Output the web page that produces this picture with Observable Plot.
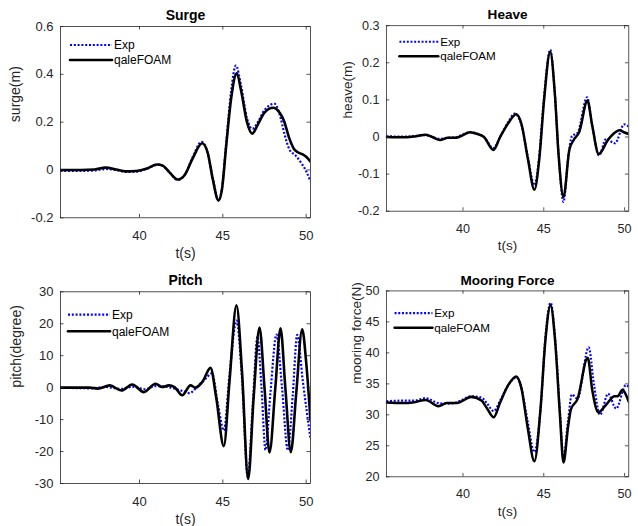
<!DOCTYPE html>
<html>
<head>
<meta charset="utf-8">
<script src="https://cdn.jsdelivr.net/npm/d3@7"></script>
<script src="https://cdn.jsdelivr.net/npm/@observablehq/plot@0.6"></script>
<style>
  body { margin: 0; background: #fff; }
  #fig { position: relative; width: 638px; height: 526px; overflow: hidden; background: #fff; }
  .panel { position: absolute; }
  .panel svg { overflow: visible; }
</style>
</head>
<body>
<div id="fig"></div>
<script>
// Time axis shared by all four panels
const tDomain = [35.26, 50.26];
const tTicks = [40, 45, 50];

// Surge (m): [t, value]
const surgeExp = [[35.26,-0.004],[36.5,-0.004],[37.3,-0.002],[38.0,0.004],[38.6,0.000],[39.2,-0.008],[39.8,-0.007],[40.4,0.004],[41.1,0.022],[41.4,0.017],[41.8,-0.010],[42.3,-0.042],[42.7,-0.022],[43.2,0.055],[43.72,0.118],[44.05,0.080],[44.4,-0.035],[44.74,-0.128],[44.95,-0.075],[45.2,0.110],[45.5,0.330],[45.78,0.437],[46.1,0.350],[46.45,0.215],[46.78,0.172],[47.1,0.200],[47.5,0.250],[48.1,0.277],[48.4,0.235],[48.7,0.150],[49.0,0.085],[49.36,0.061],[49.7,0.030],[50.0,-0.005],[50.26,-0.048]];
const surgeCfd = [[35.26,0.000],[36.5,0.000],[37.3,0.002],[37.96,0.010],[38.6,0.002],[39.16,-0.006],[39.8,-0.004],[40.4,0.005],[41.06,0.023],[41.4,0.018],[41.8,-0.010],[42.3,-0.040],[42.7,-0.022],[43.2,0.050],[43.76,0.112],[44.1,0.070],[44.4,-0.040],[44.74,-0.127],[44.95,-0.080],[45.2,0.100],[45.5,0.300],[45.84,0.404],[46.1,0.330],[46.45,0.200],[46.76,0.152],[47.1,0.190],[47.5,0.240],[48.02,0.260],[48.4,0.240],[48.66,0.207],[49.0,0.130],[49.26,0.089],[49.5,0.074],[49.76,0.066],[50.0,0.055],[50.26,0.035]];

// Heave (m)
const heaveExp = [[35.26,0.002],[36.5,0.001],[37.1,0.003],[37.7,0.005],[38.1,0.000],[38.6,-0.005],[39.1,-0.002],[39.6,0.000],[40.0,0.007],[40.45,0.013],[40.9,0.009],[41.3,0.000],[41.88,-0.030],[42.3,0.000],[42.8,0.040],[43.2,0.063],[43.6,0.035],[44.0,-0.050],[44.42,-0.130],[44.7,-0.060],[45.0,0.100],[45.4,0.235],[45.68,0.120],[45.92,-0.050],[46.22,-0.175],[46.5,-0.060],[46.74,0.002],[47.1,0.012],[47.68,0.107],[48.0,0.030],[48.42,-0.050],[48.85,-0.005],[49.4,-0.017],[49.98,0.034],[50.26,0.028]];
const heaveCfd = [[35.26,0.000],[36.5,-0.001],[37.1,0.002],[37.67,0.006],[38.1,0.000],[38.58,-0.008],[39.07,-0.002],[39.6,-0.002],[40.0,0.005],[40.42,0.013],[40.9,0.008],[41.3,0.000],[41.88,-0.035],[42.3,0.000],[42.8,0.037],[43.3,0.061],[43.62,0.035],[44.02,-0.060],[44.42,-0.142],[44.72,-0.060],[45.02,0.100],[45.4,0.230],[45.68,0.120],[45.92,-0.050],[46.22,-0.162],[46.58,-0.035],[46.85,-0.008],[47.2,0.014],[47.7,0.098],[48.0,0.030],[48.4,-0.046],[48.98,-0.007],[49.3,0.008],[49.68,0.018],[50.0,0.012],[50.26,0.008]];

// Pitch (degree)
const pitchExp = [[35.26,0],[37.0,-0.2],[38.0,0.2],[38.9,-0.4],[39.6,0.3],[40.3,-0.5],[41.0,0.5],[41.7,0.2],[42.5,-0.9],[43.0,-1.7],[43.5,0.5],[44.0,3.0],[44.35,4.5],[44.7,-5],[45.06,-13.4],[45.4,4],[45.82,21],[46.15,3],[46.5,-28],[46.8,-5],[47.08,16],[47.32,0],[47.56,-19.5],[47.85,-2],[48.22,16.6],[48.55,0],[48.9,-19.6],[49.2,-2],[49.46,16.5],[49.8,2],[50.26,-16]];
const pitchCfd = [[35.26,0],[37.0,0],[37.5,-0.3],[38.22,0.7],[38.92,-0.9],[39.56,1.0],[40.26,-1.4],[40.96,1.2],[41.36,0.2],[41.76,0.7],[42.1,0.2],[42.56,-2.4],[43.06,0.7],[43.36,0.0],[43.8,2.0],[44.26,6.2],[44.6,-3],[45.06,-18.3],[45.4,2],[45.82,25.8],[46.15,5],[46.52,-28.6],[46.85,-3],[47.2,18.8],[47.5,0],[47.8,-20.3],[48.15,0],[48.46,18.6],[48.75,0],[49.08,-20.2],[49.4,-2],[49.76,18.3],[50.0,8],[50.26,-10.3]];

// Mooring force (N)
const mooringExp = [[35.26,32.2],[36.3,32.3],[37.0,32.3],[37.69,32.7],[38.48,31.9],[39.0,31.8],[39.6,32.0],[40.0,32.5],[40.49,33.0],[41.14,32.8],[41.5,31.8],[41.9,30.6],[42.3,32.3],[42.8,34.8],[43.3,36.0],[43.6,34.5],[44.0,29.0],[44.42,24.0],[44.8,31.0],[45.1,42.5],[45.42,48.1],[45.7,42.5],[46.0,30.5],[46.22,23.0],[46.5,29.0],[46.74,33.3],[47.08,32.6],[47.78,40.9],[48.1,35.0],[48.48,30.0],[48.98,33.4],[49.48,31.0],[50.08,34.8],[50.26,34.5]];
const mooringCfd = [[35.26,32.0],[36.3,31.9],[37.0,32.05],[37.69,32.4],[38.48,31.4],[39.0,31.9],[39.6,31.9],[40.0,32.3],[40.49,32.9],[41.14,32.3],[41.5,31.0],[41.9,29.6],[42.3,32.0],[42.8,34.8],[43.3,36.2],[43.6,34.5],[44.0,28.0],[44.42,22.5],[44.8,31.0],[45.1,42.0],[45.42,47.7],[45.7,42.0],[46.0,30.0],[46.22,22.3],[46.5,28.0],[46.68,30.9],[47.08,32.5],[47.72,39.2],[48.0,34.0],[48.38,30.4],[48.88,31.7],[49.38,33.0],[49.58,33.0],[49.85,34.0],[50.26,32.1]];

// Series names shown in every legend
const seriesNames = ["Exp", "qaleFOAM"];

const ink = "#262626";
const expStyle = {stroke: "#0000ff", strokeWidth: 2.2, strokeDasharray: "2,1.8", strokeLinecap: "butt"};
const cfdStyle = {stroke: "#000000", strokeWidth: 2.6, strokeLinecap: "round"};

function panel({title, ylabel, exp, cfd, yDomain, yTicks, box, margin, ylabelDx, legend}) {
  const plotW = box.width - margin.left - margin.right;
  const plotH = box.height - margin.top - margin.bottom;
  const fmt = d => String(d);
  const legendMark = (index, scales, values, dims) => {
    const g = d3.create("svg:g")
      .attr("font-family", "'Liberation Sans', Arial, sans-serif")
      .attr("font-size", 12)
      .attr("text-anchor", "start");
    const x0 = dims.marginLeft + legend.x0, x1 = dims.marginLeft + legend.x1;
    [expStyle, cfdStyle].forEach((s, i) => {
      const y = dims.marginTop + legend.rows[i];
      g.append("line").attr("x1", x0).attr("x2", x1).attr("y1", y).attr("y2", y)
        .attr("stroke", s.stroke).attr("stroke-width", s.strokeWidth)
        .attr("stroke-linecap", s.strokeLinecap)
        .attr("stroke-dasharray", s.strokeDasharray || null);
      g.append("text").attr("x", x1 + 2).attr("y", y).attr("dy", "0.35em")
        .attr("fill", "#000").text(seriesNames[i]);
    });
    return g.node();
  };
  const chart = Plot.plot({
    width: box.width,
    height: box.height,
    marginLeft: margin.left,
    marginRight: margin.right,
    marginTop: margin.top,
    marginBottom: margin.bottom,
    style: {fontFamily: "'Liberation Sans', Arial, sans-serif", fontSize: "13px", color: ink, background: "transparent"},
    x: {domain: tDomain},
    y: {domain: yDomain},
    marks: [
      Plot.line(exp, {x: d => d[0], y: d => d[1], ...expStyle, curve: "monotone-x", clip: true}),
      Plot.line(cfd, {x: d => d[0], y: d => d[1], ...cfdStyle, curve: "monotone-x", clip: true}),
      Plot.frame({stroke: ink, strokeWidth: 0.8}),
      // inward ticks on all four sides
      Plot.tickX(tTicks, {x: d => d, insetTop: plotH - 3.5, stroke: ink, strokeWidth: 0.8}),
      Plot.tickX(tTicks, {x: d => d, insetBottom: plotH - 3.5, stroke: ink, strokeWidth: 0.8}),
      Plot.tickY(yTicks, {y: d => d, insetRight: plotW - 3.5, stroke: ink, strokeWidth: 0.8}),
      Plot.tickY(yTicks, {y: d => d, insetLeft: plotW - 3.5, stroke: ink, strokeWidth: 0.8}),
      Plot.axisX(tTicks, {tickSize: 0, tickPadding: 13, label: null, tickFormat: fmt, fontSize: 13}),
      Plot.axisY(yTicks, {tickSize: 0, tickPadding: 7, label: null, tickFormat: fmt, fontSize: 13}),
      Plot.text([title], {frameAnchor: "top", lineAnchor: "middle", dy: -11, fontWeight: "bold", fontSize: 14, fill: "#000"}),
      Plot.text(["t(s)"], {frameAnchor: "bottom", lineAnchor: "middle", dy: 36, fontSize: 14, fill: ink}),
      Plot.text([ylabel], {frameAnchor: "left", lineAnchor: "middle", dx: ylabelDx, rotate: -90, fontSize: 14, fill: ink}),
      legendMark
    ]
  });
  const div = document.createElement("div");
  div.className = "panel";
  div.style.left = box.left + "px";
  div.style.top = box.top + "px";
  div.appendChild(chart);
  document.getElementById("fig").appendChild(div);
}

const topMargin = {top: 26, bottom: 45.7};
const botMargin = {top: 28.3, bottom: 43};

panel({
  title: "Surge", ylabel: "surge(m)", exp: surgeExp, cfd: surgeCfd,
  yDomain: [-0.2, 0.6], yTicks: [-0.2, 0, 0.2, 0.4, 0.6],
  box: {left: 0, top: 0, width: 320, height: 263},
  margin: {left: 60, right: 10, ...topMargin}, ylabelDx: -45,
  legend: {x0: 10, x1: 52, rows: [19, 34]}
});
panel({
  title: "Heave", ylabel: "heave(m)", exp: heaveExp, cfd: heaveCfd,
  yDomain: [-0.2, 0.3], yTicks: [-0.2, -0.1, 0, 0.1, 0.2, 0.3],
  box: {left: 318, top: 0, width: 330, height: 263},
  margin: {left: 70, right: 10, ...topMargin}, ylabelDx: -40,
  legend: {x0: 14, x1: 54, rows: [17, 32]}
});
panel({
  title: "Pitch", ylabel: "pitch(degree)", exp: pitchExp, cfd: pitchCfd,
  yDomain: [-30, 30], yTicks: [-30, -20, -10, 0, 10, 20, 30],
  box: {left: 0, top: 263, width: 320, height: 263},
  margin: {left: 60, right: 10, ...botMargin}, ylabelDx: -44,
  legend: {x0: 8, x1: 50, rows: [23.4, 40]}
});
panel({
  title: "Mooring Force", ylabel: "mooring force(N)", exp: mooringExp, cfd: mooringCfd,
  yDomain: [20, 50], yTicks: [20, 25, 30, 35, 40, 45, 50],
  box: {left: 318, top: 263, width: 330, height: 263},
  margin: {left: 70, right: 10, ...botMargin}, ylabelDx: -31,
  legend: {x0: 9, x1: 48, rows: [23.4, 38.4]}
});
</script>
</body>
</html>
